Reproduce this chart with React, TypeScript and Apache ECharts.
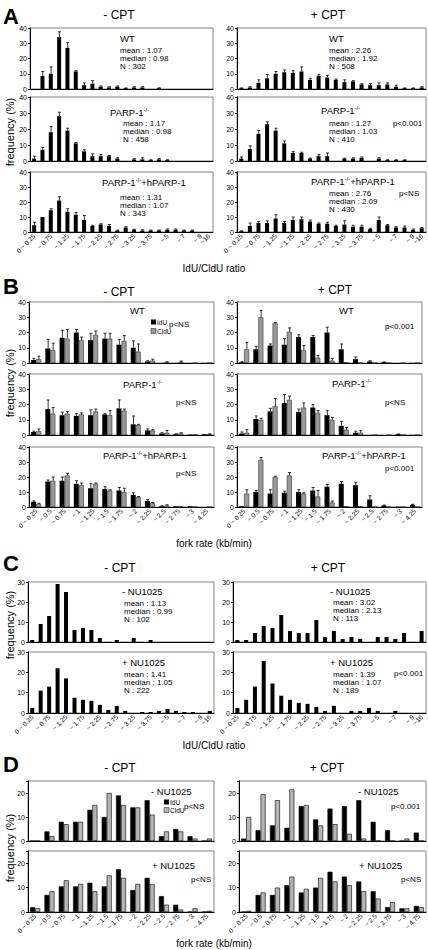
import React, { useEffect, useRef } from 'react';
import * as echarts from 'echarts';

const FONT = '"Liberation Sans", Arial, Helvetica, sans-serif';

// ---------- categories ----------
const ratioCategories = ['0 ~ 0.25', '~ 0.5', '~ 0.75', '~ 1', '~ 1.25', '~ 1.5', '~ 1.75', '~ 2', '~ 2.25', '~ 2.5', '~ 2.75', '~ 3', '~ 3.25', '~ 3.5', '~ 3.75', '~ 4', '~ 5', '~ 6', '~ 7', '~ 8', '~ 9', '~16'];
const forkCategoriesB = ['0 ~ 0.25', '~ 0.5', '~ 0.75', '~ 1', '~ 1.25', '~ 1.5', '~ 1.75', '~ 2', '~ 2.25', '~ 2.5', '~ 2.75', '~ 3', '~ 4.25'];
const forkCategoriesD = ['0 ~ 0.25', '~ 0.5', '~ 0.75', '~ 1', '~ 1.25', '~ 1.5', '~ 1.75', '~ 2', '~ 2.25', '~ 2.5', '~ 2.75', '~ 3', '~ 4.75'];

// ---------- panel A (IdU/CldU ratio, mean +/- error) ----------
const aWtMinus = [0, 8.5, 10, 34, 27, 11.5, 2.5, 3.5, 1.5, 1, 1.5, 0.5, 1, 1, 0, 0.5, 0, 0, 0, 0, 0, 0];
const aWtMinusErr = [0, 3, 4.5, 3.5, 3.5, 0.5, 1.5, 2, 0.5, 0.5, 0.5, 0.2, 0.5, 0.5, 0, 0.3, 0, 0, 0, 0, 0, 0];
const aKoMinus = [1.5, 7, 18, 28, 19, 11, 6, 3, 3, 3, 1.5, 0, 1, 1, 0.5, 1, 0.5, 0, 0, 0, 0, 0];
const aKoMinusErr = [1.5, 1.5, 3.5, 2.5, 1.5, 0.5, 1, 1.5, 1, 0.5, 0.5, 0, 0.5, 1, 0.3, 0.5, 0.3, 0, 0, 0, 0, 0];
const aResMinus = [4.5, 10, 14.5, 21, 13.5, 11.5, 8, 4, 5, 4, 1, 3, 1.5, 1, 1, 1, 1.5, 1.5, 1, 1, 0, 0];
const aResMinusErr = [2, 0, 1, 2.5, 2, 1.5, 3, 0.5, 0.5, 1, 0.3, 0.5, 0.3, 0.5, 0.3, 0.3, 0.5, 0.5, 0.3, 0.3, 0, 0];
const aWtPlus = [0.5, 1, 4, 7, 10, 11, 10.5, 11.5, 6, 8.5, 7.5, 6, 4.5, 5, 3, 2.5, 2.5, 3, 1.5, 0.5, 0.5, 1];
const aWtPlusErr = [0.2, 0.5, 2, 2.5, 1.5, 1.5, 1.5, 3, 1, 1, 1.5, 0.5, 1.5, 0.5, 0.5, 1, 1.5, 1, 1, 0.2, 0.2, 0.5];
const aKoPlus = [1.5, 7.5, 17, 23, 19, 11, 5, 5, 1.5, 3, 3, 0, 1.5, 1.5, 2, 0, 1.5, 0.5, 0.5, 0.5, 0, 0];
const aKoPlusErr = [1, 2, 2, 1.5, 1.5, 1.5, 1, 0.5, 0.3, 1, 2, 0, 0.3, 0.5, 0.5, 0, 0.5, 0.3, 0.3, 0.3, 0, 0];
const aResPlus = [0.5, 4, 6, 6, 9, 6, 8, 8.5, 7, 5.5, 5.5, 4, 5, 3.5, 3.5, 2, 8, 4.5, 3, 3, 1.5, 2.5];
const aResPlusErr = [0.3, 2, 1, 1.5, 2.5, 1, 2, 1.5, 1, 0.5, 1, 0.5, 2.5, 1, 1, 0.5, 2, 0.5, 0.5, 1, 0.5, 0.5];

// ---------- panel B (fork rate, IdU / CldU) ----------
const bWtMinusIdU = [2, 9.5, 16.5, 20, 15, 16, 12, 10, 1, 0, 0, 0, 0];
const bWtMinusIdUErr = [1, 6, 5, 2, 4.5, 3.5, 3.5, 4.5, 0.5, 0, 0, 0, 0];
const bWtMinusCldU = [2.5, 8.5, 16, 15, 18.5, 16, 14.5, 7.5, 1.5, 0.5, 0.8, 0, 0];
const bWtMinusCldUErr = [2, 4.5, 6, 2, 2.5, 3.5, 3.5, 5, 1, 0.3, 0.5, 0, 0];
const bKoMinusIdU = [2, 17, 13, 12.5, 13, 13.5, 17.5, 7, 3, 1, 0.5, 0.3, 0.5];
const bKoMinusIdUErr = [0.5, 6, 2, 1.5, 3.5, 0.5, 5.5, 5.5, 1, 0.5, 0.3, 0, 0];
const bKoMinusCldU = [2.5, 14, 14, 13.5, 15.5, 13, 16, 6.5, 3, 1.5, 1, 0.3, 0.5];
const bKoMinusCldUErr = [1.5, 4, 1.5, 1, 1.5, 3, 1, 0.5, 0.5, 1.5, 0.5, 0, 0.3];
const bResMinusIdU = [3.5, 17, 17.5, 15.5, 12.5, 12, 11, 8, 4, 0.5, 0.5, 0.5, 0];
const bResMinusIdUErr = [0.5, 1, 2.5, 2, 3, 1.5, 2, 1.5, 1, 0.3, 0, 0, 0];
const bResMinusCldU = [2, 17.5, 21, 14.5, 15.5, 11, 10, 6.5, 2.5, 1, 0.5, 0, 0];
const bResMinusCldUErr = [0.5, 2.5, 1.5, 1.5, 0.5, 0.5, 2.5, 0.5, 0.5, 0.5, 0, 0, 0];
const bWtPlusIdU = [0.5, 9, 11.5, 12, 17, 17, 20, 9, 2.5, 1, 0.5, 0, 0];
const bWtPlusIdUErr = [0.3, 2, 1, 4, 1.5, 1, 3.5, 3.5, 1.5, 0.5, 0.2, 0, 0];
const bWtPlusCldU = [9, 30, 26, 20.5, 8.5, 3.5, 1.5, 0.5, 0, 0, 0, 0, 0];
const bWtPlusCldUErr = [4.5, 4.5, 0.5, 2.5, 3, 1.5, 1.5, 0, 0, 0, 0, 0, 0];
const bKoPlusIdU = [1, 10.5, 15.5, 21, 15, 18, 13, 6, 1.5, 0, 0, 0.5, 0];
const bKoPlusIdUErr = [1, 2, 2, 5.5, 2, 2, 3, 3, 1, 0, 0, 0.2, 0];
const bKoPlusCldU = [1.5, 10, 19, 23, 18, 14.5, 10, 3.5, 1.5, 0, 0, 0, 0];
const bKoPlusCldUErr = [2, 1, 5, 2.5, 3, 1.5, 1.5, 1.5, 1.5, 0, 0, 0, 0];
const bResPlusIdU = [0.5, 10, 9, 9.5, 10, 11, 13.5, 15.5, 14.5, 5, 1, 0.3, 1.5];
const bResPlusIdUErr = [0, 1, 2.5, 1, 1.5, 2, 1.5, 1.5, 2, 2.5, 0.3, 0, 0.3];
const bResPlusCldU = [9, 31.5, 20, 21, 9, 7, 3, 0.5, 0.5, 0, 0, 0, 0];
const bResPlusCldUErr = [2.5, 1.5, 0.5, 2, 0.5, 4, 1, 0, 0, 0, 0, 0, 0];

// ---------- panel C (IdU/CldU ratio, NU1025) ----------
const cNoNuMinus = [1, 9, 13, 29, 25, 6, 7, 6, 2, 0, 1, 0, 2, 0, 1, 0, 0, 0, 0, 0, 0, 0];
const cNuMinus = [2.5, 11, 13, 22, 17, 7.5, 6.5, 6, 4, 1.5, 3.5, 1, 0, 0.5, 0.5, 1, 2, 1, 0.5, 0.5, 0, 1];
const cNoNuPlus = [1, 1, 4.5, 8, 7, 13.5, 5.5, 4.5, 4.5, 11, 2.5, 5.5, 1.5, 2.5, 1.5, 0, 2.5, 2.5, 1.5, 4.5, 0, 5.5];
const cNuPlus = [2.5, 6.5, 13, 25.5, 14.5, 8.5, 6.5, 5, 4.5, 3, 1, 3.5, 0, 1, 1, 2.5, 1, 0, 1, 0, 0, 0];

// ---------- panel D (fork rate, NU1025, IdU / CldU) ----------
const dNoNuMinusIdU = [0, 4, 8, 8, 13, 10, 19, 14, 17, 2, 5, 2, 0];
const dNoNuMinusCldU = [0, 2, 7, 8, 15, 20, 15, 14, 11, 4, 4, 1, 1];
const dNuMinusIdU = [2, 7, 10.5, 10.5, 12, 10.5, 17.5, 9, 14, 6.5, 3, 0, 0];
const dNuMinusCldU = [1.5, 8.5, 13, 11.5, 8.5, 15, 14, 11.5, 11.5, 3, 1, 1.5, 0.5];
const dNoNuPlusIdU = [1, 4.5, 6.5, 5.5, 14.5, 9, 13.5, 14.5, 17, 8, 4.5, 0, 3.5];
const dNoNuPlusCldU = [10, 19.5, 17, 21.5, 15, 6.5, 7, 3, 1, 0, 0, 1, 0];
const dNuPlusIdU = [0, 7, 7, 11, 8, 10, 16.5, 14.5, 12.5, 8.5, 2, 1.5, 2.5];
const dNuPlusCldU = [0.5, 8, 10, 14.5, 9.5, 14, 12.5, 11, 8.5, 5.5, 4, 1.5, 2];

type BarDef = { vals: number[]; err?: number[]; color: string; border?: string };
type Panel = {
  left: number; top: number; width: number; height: number;
  cats: string[]; yMax: number; bottom: boolean; everyOther: boolean;
  barWidth: number; bars: BarDef[];
};

const BLACK = '#000';
const GRAYB = '#9a9a9a';
const GRAYD = '#b4b4b4';

function single(vals: number[], err?: number[]): BarDef[] {
  return [{ vals, err, color: BLACK }];
}
function pairB(a: number[], ae: number[], b: number[], be: number[]): BarDef[] {
  return [{ vals: a, err: ae, color: BLACK }, { vals: b, err: be, color: GRAYB, border: '#333' }];
}
function pairD(a: number[], b: number[]): BarDef[] {
  return [{ vals: a, color: BLACK, border: '#000' }, { vals: b, color: GRAYD, border: '#000' }];
}

const panels: Panel[] = [
  // A
  { left: 30, top: 28, width: 183, height: 61, cats: ratioCategories, yMax: 40, bottom: false, everyOther: true, barWidth: 4, bars: single(aWtMinus, aWtMinusErr) },
  { left: 30, top: 97, width: 183, height: 64, cats: ratioCategories, yMax: 40, bottom: false, everyOther: true, barWidth: 4, bars: single(aKoMinus, aKoMinusErr) },
  { left: 30, top: 172, width: 183, height: 60, cats: ratioCategories, yMax: 40, bottom: true, everyOther: true, barWidth: 4, bars: single(aResMinus, aResMinusErr) },
  { left: 237, top: 28, width: 189, height: 61, cats: ratioCategories, yMax: 40, bottom: false, everyOther: true, barWidth: 4, bars: single(aWtPlus, aWtPlusErr) },
  { left: 237, top: 97, width: 189, height: 64, cats: ratioCategories, yMax: 40, bottom: false, everyOther: true, barWidth: 4, bars: single(aKoPlus, aKoPlusErr) },
  { left: 237, top: 172, width: 189, height: 60, cats: ratioCategories, yMax: 40, bottom: true, everyOther: true, barWidth: 4, bars: single(aResPlus, aResPlusErr) },
  // B
  { left: 29, top: 302, width: 185, height: 61, cats: forkCategoriesB, yMax: 40, bottom: false, everyOther: false, barWidth: 5, bars: pairB(bWtMinusIdU, bWtMinusIdUErr, bWtMinusCldU, bWtMinusCldUErr) },
  { left: 29, top: 374, width: 185, height: 61, cats: forkCategoriesB, yMax: 40, bottom: false, everyOther: false, barWidth: 5, bars: pairB(bKoMinusIdU, bKoMinusIdUErr, bKoMinusCldU, bKoMinusCldUErr) },
  { left: 29, top: 447, width: 185, height: 60, cats: forkCategoriesB, yMax: 40, bottom: true, everyOther: false, barWidth: 5, bars: pairB(bResMinusIdU, bResMinusIdUErr, bResMinusCldU, bResMinusCldUErr) },
  { left: 237, top: 302, width: 185, height: 61, cats: forkCategoriesB, yMax: 40, bottom: false, everyOther: false, barWidth: 5, bars: pairB(bWtPlusIdU, bWtPlusIdUErr, bWtPlusCldU, bWtPlusCldUErr) },
  { left: 237, top: 374, width: 185, height: 61, cats: forkCategoriesB, yMax: 40, bottom: false, everyOther: false, barWidth: 5, bars: pairB(bKoPlusIdU, bKoPlusIdUErr, bKoPlusCldU, bKoPlusCldUErr) },
  { left: 237, top: 447, width: 185, height: 60, cats: forkCategoriesB, yMax: 40, bottom: true, everyOther: false, barWidth: 5, bars: pairB(bResPlusIdU, bResPlusIdUErr, bResPlusCldU, bResPlusCldUErr) },
  // C
  { left: 28, top: 582, width: 186, height: 60, cats: ratioCategories, yMax: 30, bottom: false, everyOther: true, barWidth: 4, bars: single(cNoNuMinus) },
  { left: 28, top: 652, width: 186, height: 61, cats: ratioCategories, yMax: 30, bottom: true, everyOther: true, barWidth: 4, bars: single(cNuMinus) },
  { left: 233, top: 582, width: 193, height: 60, cats: ratioCategories, yMax: 30, bottom: false, everyOther: true, barWidth: 4, bars: single(cNoNuPlus) },
  { left: 233, top: 652, width: 193, height: 61, cats: ratioCategories, yMax: 30, bottom: true, everyOther: true, barWidth: 4, bars: single(cNuPlus) },
  // D
  { left: 28, top: 781, width: 186, height: 60, cats: forkCategoriesD, yMax: 25, bottom: false, everyOther: false, barWidth: 5, bars: pairD(dNoNuMinusIdU, dNoNuMinusCldU) },
  { left: 28, top: 851, width: 186, height: 61, cats: forkCategoriesD, yMax: 25, bottom: true, everyOther: false, barWidth: 5, bars: pairD(dNuMinusIdU, dNuMinusCldU) },
  { left: 239, top: 781, width: 187, height: 60, cats: forkCategoriesD, yMax: 25, bottom: false, everyOther: false, barWidth: 5, bars: pairD(dNoNuPlusIdU, dNoNuPlusCldU) },
  { left: 239, top: 851, width: 187, height: 61, cats: forkCategoriesD, yMax: 25, bottom: true, everyOther: false, barWidth: 5, bars: pairD(dNuPlusIdU, dNuPlusCldU) },
];

function txt(x: number, y: number, text: string, size = 8, extra: any = {}) {
  return {
    type: 'text', x, y, z: 100,
    style: {
      text, fontSize: size, fontFamily: FONT, fontWeight: 'normal', fill: '#000',
      textAlign: 'left', textVerticalAlign: 'middle', align: 'left', verticalAlign: 'middle',
      ...extra,
    },
  };
}
function centered(x: number, y: number, text: string, size: number, extra: any = {}) {
  return txt(x, y, text, size, { textAlign: 'center', align: 'center', ...extra });
}
const parpRich = {
  n: { fontSize: 9.5, fontFamily: FONT, fontWeight: 'normal', fill: '#000', verticalAlign: 'bottom' },
  sup: { fontSize: 6, fontFamily: FONT, fontWeight: 'normal', fill: '#000', verticalAlign: 'top' },
};
function parp(x: number, y: number, rescue: boolean) {
  return txt(x, y, rescue ? '{n|PARP-1}{sup|-/-}{n|+hPARP-1}' : '{n|PARP-1}{sup|-/-}', 9.5, { rich: parpRich });
}
function stats(x: number, y: number, mean: string, median: string, n: string) {
  return [
    txt(x, y, 'mean : ' + mean, 8),
    txt(x, y + 8, 'median : ' + median, 8),
    txt(x, y + 16, 'N : ' + n, 8),
  ];
}
function legend(x: number, y: number, gap: number, grayColor: string) {
  return [
    { type: 'rect', shape: { x, y: y - 2.5, width: 5, height: 5 }, style: { fill: '#000' }, z: 100 },
    txt(x + 6, y, 'IdU', 6.5),
    { type: 'rect', shape: { x, y: y + gap - 2.5, width: 5, height: 5 }, style: { fill: grayColor, stroke: '#333', lineWidth: 0.6 }, z: 100 },
    txt(x + 6, y + gap, 'CldU', 6.5),
  ];
}
function sectionLetter(x: number, y: number, l: string) {
  return txt(x, y, l, 22, { fontWeight: 'bold' });
}
function freq(x: number, y: number) {
  return {
    type: 'text', x, y, rotation: Math.PI / 2, z: 100,
    style: { text: 'frequency (%)', fontSize: 11, fontFamily: FONT, fill: '#000', textAlign: 'center', align: 'center', textVerticalAlign: 'middle', verticalAlign: 'middle' },
  };
}

function buildOption() {
  const grid: any[] = [];
  const xAxis: any[] = [];
  const yAxis: any[] = [];
  const series: any[] = [];
  panels.forEach((p, i) => {
    grid.push({ left: p.left, top: p.top, width: p.width, height: p.height, show: true, borderColor: '#666', borderWidth: 0.8, backgroundColor: 'transparent' });
    const lastIdx = p.cats.length - 1;
    const xIndex = xAxis.length;
    xAxis.push({
      type: 'category', gridIndex: i, data: p.cats, position: 'bottom',
      axisLine: { show: true, lineStyle: { color: '#000', width: 1 } },
      axisTick: { show: false },
      axisLabel: {
        show: p.bottom, rotate: 45, fontSize: 6.5, fontFamily: FONT, color: '#000', margin: 3,
        hideOverlap: false,
        interval: p.everyOther ? (idx: number) => idx % 2 === 0 : 0,
      },
    });
    if (p.bottom && p.everyOther) {
      // separate axis carrying only the final label (kept from being hidden by overlap)
      xAxis.push({
        type: 'category', gridIndex: i, data: p.cats, position: 'bottom', offset: 0,
        axisLine: { show: false }, axisTick: { show: false },
        axisLabel: {
          show: true, rotate: 45, fontSize: 6.5, fontFamily: FONT, color: '#000', margin: 3,
          interval: (idx: number) => idx === lastIdx,
        },
      });
    }
    yAxis.push({
      type: 'value', gridIndex: i, min: 0, max: p.yMax, interval: 10,
      axisLine: { show: true, lineStyle: { color: '#000', width: 1 } },
      axisTick: { show: true, length: 2, lineStyle: { color: '#000' } },
      splitLine: { show: false },
      axisLabel: {
        fontSize: 7, fontFamily: FONT, color: '#000', margin: 3,
        formatter: (v: number) => (v % 10 === 0 ? String(v) : ''),
      },
    });
    const n = p.bars.length;
    p.bars.forEach((b, k) => {
      series.push({
        type: 'bar', xAxisIndex: xIndex, yAxisIndex: i, data: b.vals, barWidth: p.barWidth, barGap: '0%',
        itemStyle: { color: b.color, borderColor: b.border || b.color, borderWidth: b.border ? 0.6 : 0 },
        z: 2,
      });
      if (b.err) {
        const offset = n === 1 ? 0.3 : (k - (n - 1) / 2) * p.barWidth + 0.3;
        const errData = b.vals.map((v, idx) => [idx, v, b.err![idx]]);
        series.push({
          type: 'custom', xAxisIndex: xIndex, yAxisIndex: i, data: errData, z: 3,
          encode: { x: 0, y: 1 },
          renderItem: (params: any, api: any) => {
            const x = api.value(0);
            const v = api.value(1);
            const e = api.value(2);
            if (!e) return null;
            const p0 = api.coord([x, v]);
            const p1 = api.coord([x, v + e]);
            const cx = p0[0] + offset;
            return {
              type: 'group',
              children: [
                { type: 'line', shape: { x1: cx, y1: p0[1], x2: cx, y2: p1[1] }, style: { stroke: '#000', lineWidth: 0.8 } },
                { type: 'line', shape: { x1: cx - 1.5, y1: p1[1], x2: cx + 1.5, y2: p1[1] }, style: { stroke: '#000', lineWidth: 0.8 } },
              ],
            };
          },
        });
      }
    });
  });

  const graphic: any[] = [
    // A
    sectionLetter(3, 16, 'A'),
    centered(119, 15, '- CPT', 12),
    centered(328, 15, '+ CPT', 12),
    freq(10, 132),
    txt(120, 38, 'WT', 9.5),
    ...stats(120, 50, '1.07', '0.98', '302'),
    parp(110, 112, false),
    ...stats(123, 123, '1.17', '0.98', '458'),
    parp(102, 182, true),
    ...stats(120, 197, '1.31', '1.07', '343'),
    txt(329, 38, 'WT', 9.5),
    ...stats(329, 50, '2.26', '1.92', '508'),
    parp(321, 110, false),
    ...stats(329, 123, '1.27', '1.03', '410'),
    txt(393, 123, 'p<0.001', 8),
    parp(311, 181, true),
    ...stats(329, 193, '2.76', '2.09', '430'),
    txt(399, 193, 'p<NS', 8),
    centered(214, 268, 'IdU/CldU ratio', 10),
    // B
    sectionLetter(3, 286, 'B'),
    centered(119, 292, '- CPT', 12),
    centered(335, 290, '+ CPT', 12),
    freq(10, 383),
    txt(130, 310, 'WT', 9.5),
    ...legend(151, 322, 9, GRAYB),
    txt(169, 324, 'p<NS', 8),
    parp(123, 384, false),
    txt(176, 402, 'p<NS', 8),
    parp(103, 455, true),
    txt(176, 473, 'p<NS', 8),
    txt(339, 310, 'WT', 9.5),
    txt(385, 326, 'p<0.001', 8),
    parp(332, 383, false),
    txt(385, 402, 'p<NS', 8),
    parp(322, 455, true),
    txt(385, 468, 'p<0.001', 8),
    centered(214, 543, 'fork rate (kb/min)', 10),
    // C
    sectionLetter(3, 563, 'C'),
    centered(120, 568, '- CPT', 12),
    centered(328, 568, '+ CPT', 12),
    freq(10, 625),
    txt(122, 591, '- NU1025', 9.5),
    ...stats(124, 603, '1.13', '0.99', '102'),
    txt(122, 662, '+ NU1025', 9.5),
    ...stats(124, 674, '1.41', '1.05', '222'),
    txt(330, 591, '- NU1025', 9.5),
    ...stats(333, 602, '3.02', '2.13', '113'),
    txt(330, 662, '+ NU1025', 9.5),
    ...stats(333, 674, '1.39', '1.07', '189'),
    txt(394, 673, 'p<0.001', 8),
    centered(214, 745, 'IdU/CldU ratio', 10),
    // D
    sectionLetter(3, 764, 'D'),
    centered(120, 768, '- CPT', 12),
    centered(327, 768, '+ CPT', 12),
    freq(10, 848),
    txt(151, 791, '- NU1025', 9.5),
    ...legend(164, 802, 8, GRAYD),
    txt(184, 806, 'p<NS', 8),
    txt(152, 865, '+ NU1025', 9.5),
    txt(191, 879, 'p<NS', 8),
    txt(358, 791, '- NU1025', 9.5),
    txt(391, 806, 'p<0.001', 8),
    txt(359, 865, '+ NU1025', 9.5),
    txt(401, 879, 'p<NS', 8),
    centered(214, 943, 'fork rate (kb/min)', 10),
  ];

  return {
    animation: false,
    backgroundColor: '#fff',
    textStyle: { fontFamily: FONT },
    grid, xAxis, yAxis, series, graphic,
  };
}

export default function App() {
  const ref = useRef<HTMLDivElement>(null);
  useEffect(() => {
    if (!ref.current) return;
    const chart = echarts.init(ref.current, undefined, { renderer: 'svg' });
    chart.setOption(buildOption() as any);
    return () => chart.dispose();
  }, []);
  return (
    <div
      ref={ref}
      style={{ position: 'absolute', left: 0, top: 0, width: 428, height: 950, background: '#fff' }}
    />
  );
}
